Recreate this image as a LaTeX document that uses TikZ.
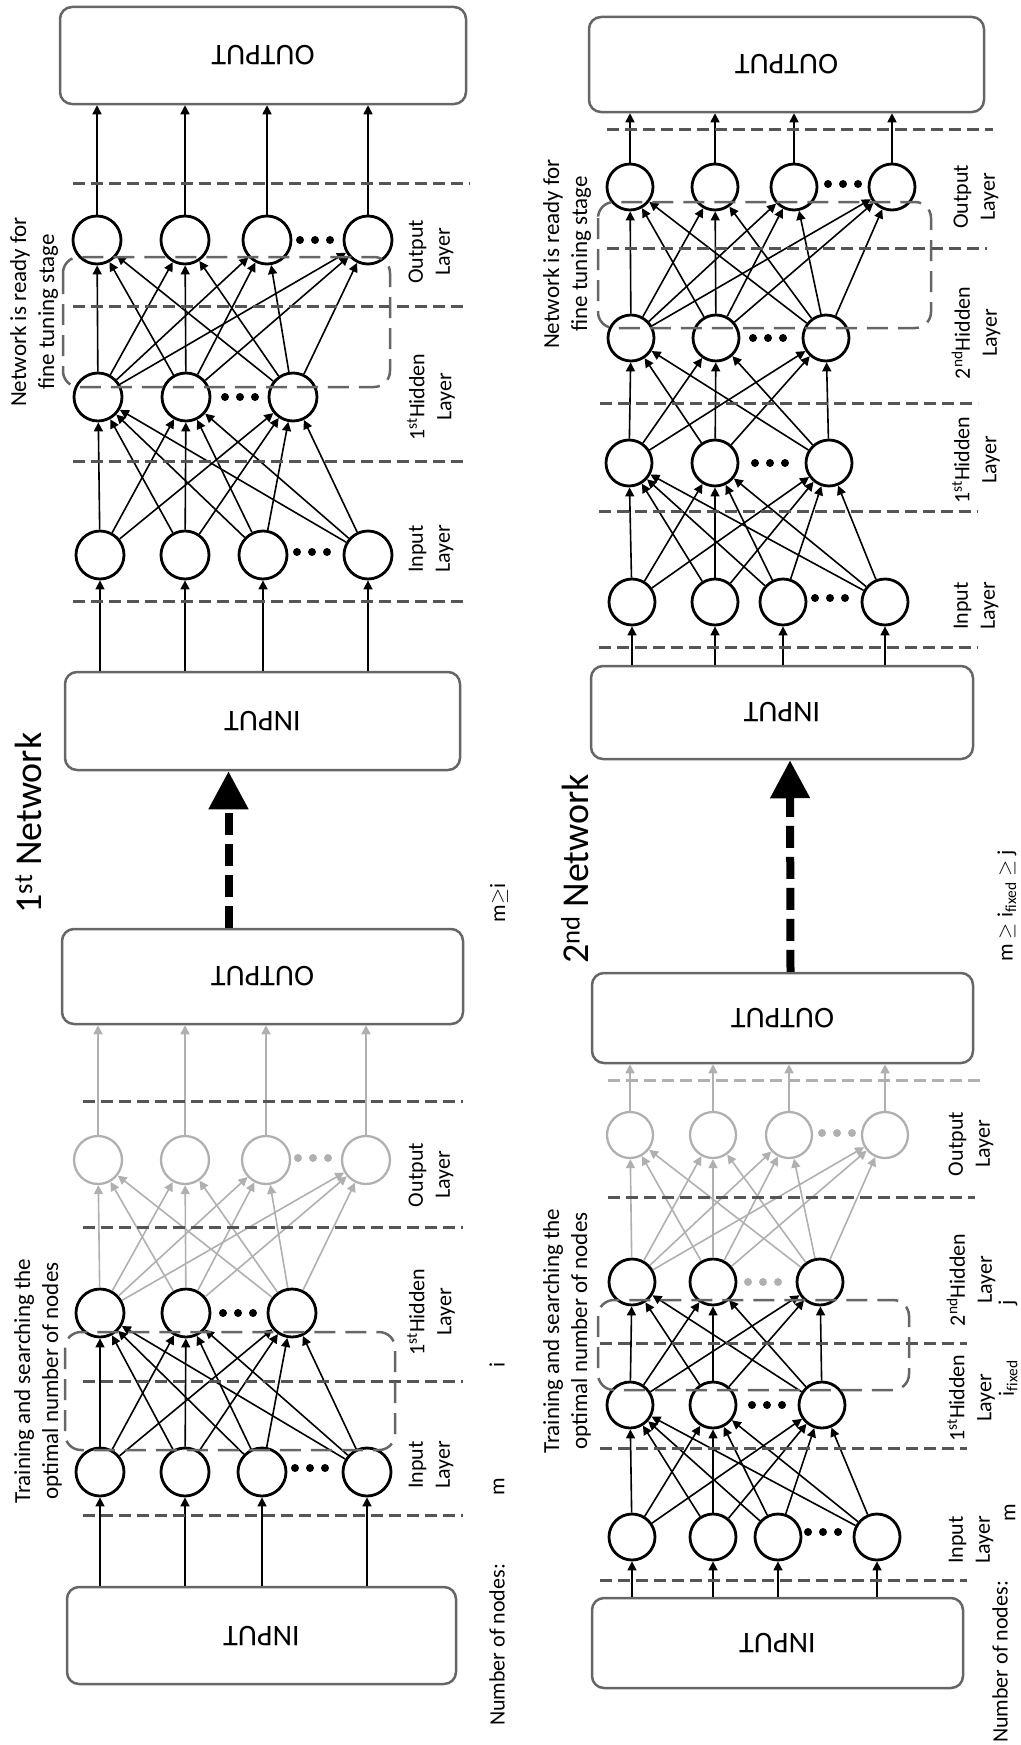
\documentclass[tikz,border=0pt]{standalone}
\usepackage{fontspec}
\setmainfont{Carlito}
\usepackage{graphicx}
\usepackage{tikz}
\usetikzlibrary{arrows.meta, positioning, calc}
\definecolor{boxgray}{HTML}{666666}
\definecolor{linegray}{HTML}{555555}
\definecolor{offgray}{HTML}{B0B0B0}
\tikzset{
    neuron/.style={
        circle,
        line width=2.8pt,
        draw=black,
        minimum size=48pt,
        inner sep=0pt,
    },
    offneuron/.style={
        neuron,
        line width=2.3pt,
        draw=offgray,
    },
    iobox/.style={
        rectangle,
        rounded corners=12pt,
        line width=2.5pt,
        draw=boxgray,
        font=\fontsize{30}{36}\selectfont,
    },
    link/.style={->, line width=1.6pt},
    offlink/.style={->, line width=1.6pt, draw=offgray, fill=offgray},
    sep/.style={line width=3pt, draw=linegray, dash pattern=on 12pt off 6pt},
    group/.style={line width=2.5pt, draw=boxgray, dash pattern=on 21pt off 10pt, rounded corners=16pt},
    layer/.style={rotate=90, align=center, font=\fontsize{22}{27}\selectfont},
    note/.style={rotate=90, align=center, font=\fontsize{23}{28}\selectfont},
    title/.style={rotate=90, font=\fontsize{38}{44}\selectfont},
    bigarrow/.style={line width=8pt, dash pattern=on 22pt off 9pt, -{Triangle[width=38pt,length=38pt]}},
}
% three dots between the last two neurons of a layer
\newcommand{\nodedots}[3]{\foreach \dx in {-1,0,1} \fill[#3] (#1+15*\dx,#2) circle (4pt);}

\begin{document}
\begin{tikzpicture}[x=1pt, y=-1pt, >={Triangle[length=9pt,width=9pt]}]
\useasboundingbox (0,0) rectangle (1020,1745);

% ---------- 1st network, searching stage
\node [iobox, minimum width=389pt, minimum height=97pt] (s1-in) at (261.5,1635.5) {\rotatebox{180}{INPUT}};
\foreach \x [count=\k] in {100,185,262,367} \node [neuron] (s1-i\k) at (\x,1472) {};
\foreach \x [count=\k] in {100,186,292} \node [neuron] (s1-h\k) at (\x,1313) {};
\foreach \x [count=\k] in {98,185,266,366} \node [offneuron] (s1-o\k) at (\x,1160) {};
\node [iobox, minimum width=401pt, minimum height=95pt] (s1-out) at (262.5,976.5) {\rotatebox{180}{OUTPUT}};
\nodedots{310}{1468}{black}
\nodedots{238}{1313}{black}
\nodedots{313}{1158}{offgray}

\foreach \k in {1,...,4} \draw [link] (s1-in.north -| s1-i\k) -- (s1-i\k);
\foreach \a in {1,...,4} \foreach \b in {1,2,3} \draw [link] (s1-i\a) -- (s1-h\b);
\foreach \a in {1,2,3} \foreach \b in {1,...,4} \draw [offlink] (s1-h\a) -- (s1-o\b);
\foreach \k in {1,...,4} \draw [offlink] (s1-o\k) -- (s1-o\k |- s1-out.south);

\draw [sep] (83,1515) -- (463,1515);
\draw [sep] (83,1381) -- (463,1381);
\draw [sep] (83,1227) -- (463,1227);
\draw [sep] (83,1101) -- (463,1101);
\draw [group] (65,1332) rectangle (395,1450);

\node [layer] (s1-lin) at (431,1465) {Input\\Layer};
\node [layer] (s1-lhid) at (431,1312) {1\textsuperscript{st}Hidden\\Layer};
\node [layer] (s1-lout) at (431,1175) {Output\\Layer};
\node [note] (s1-note) at (38,1381) {Training and searching the\\optimal number of nodes};

% ---------- 1st network, ready
\node [iobox, minimum width=395pt, minimum height=98pt] (n1-in) at (262.5,721) {\rotatebox{180}{INPUT}};
\foreach \x [count=\k] in {100,185,263,368} \node [neuron] (n1-i\k) at (\x,555) {};
\foreach \x [count=\k] in {98,186,293} \node [neuron] (n1-h\k) at (\x,397) {};
\foreach \x [count=\k] in {97,185,267,368} \node [neuron] (n1-o\k) at (\x,240) {};
\node [iobox, minimum width=406pt, minimum height=97pt] (n1-out) at (263,55.5) {\rotatebox{180}{OUTPUT}};
\nodedots{312}{552}{black}
\nodedots{240}{397}{black}
\nodedots{315}{240}{black}

\foreach \k in {1,...,4} \draw [link] (n1-in.north -| n1-i\k) -- (n1-i\k);
\foreach \a in {1,...,4} \foreach \b in {1,2,3} \draw [link] (n1-i\a) -- (n1-h\b);
\foreach \a in {1,2,3} \foreach \b in {1,...,4} \draw [link] (n1-h\a) -- (n1-o\b);
\foreach \k in {1,...,4} \draw [link] (n1-o\k) -- (n1-o\k |- n1-out.south);

\draw [sep] (73,601) -- (463,601);
\draw [sep] (73,461) -- (463,461);
\draw [sep] (73,306) -- (465,306);
\draw [sep] (73,183) -- (470,183);
\draw [group] (63,257) rectangle (390,387);

\node [layer] (n1-lin) at (431,549) {Input\\Layer};
\node [layer] (n1-lhid) at (431,397) {1\textsuperscript{st}Hidden\\Layer};
\node [layer] (n1-lout) at (431,252) {Output\\Layer};
\node [note] (n1-note) at (34,312) {Network is ready for\\fine tuning stage};

\draw [bigarrow] ([xshift=-34pt]s1-out.north) -- ([xshift=-34pt]n1-in.south);
\node [title] (n1-title) at (28,823) {1\textsuperscript{st} Network};

\node [layer] (s1-count) at (497,1645) {Number of nodes:};
\node [layer] (s1-m) at (499,1487) {m};
\node [layer] (s1-i) at (497,1365) {i};
\node [layer] (s1-cond) at (499,903) {m$\geq$i};

% ---------- 2nd network, searching stage
\node [iobox, minimum width=371pt, minimum height=90pt] (s2-in) at (777.5,1643) {\rotatebox{180}{INPUT}};
\foreach \x [count=\k] in {632,713,778,877} \node [neuron, minimum size=46pt] (s2-i\k) at (\x,1537) {};
\foreach \x [count=\k] in {630,713,822} \node [neuron, minimum size=46pt] (s2-a\k) at (\x,1405) {};
\foreach \x [count=\k] in {632,713,820} \node [neuron, minimum size=46pt] (s2-b\k) at (\x,1282) {};
\foreach \x [count=\k] in {630,713,789,885} \node [offneuron, minimum size=46pt] (s2-o\k) at (\x,1135) {};
\node [iobox, minimum width=381pt, minimum height=90pt] (s2-out) at (782.5,1018) {\rotatebox{180}{OUTPUT}};
\nodedots{823}{1532}{black}
\nodedots{767}{1405}{black}
\nodedots{763}{1282}{offgray}
\nodedots{837}{1133}{offgray}

\foreach \k in {1,...,4} \draw [link] (s2-in.north -| s2-i\k) -- (s2-i\k);
\foreach \a in {1,...,4} \foreach \b in {1,2,3} \draw [link] (s2-i\a) -- (s2-a\b);
\foreach \a in {1,2,3} \foreach \b in {1,2,3} \draw [link] (s2-a\a) -- (s2-b\b);
\foreach \a in {1,2,3} \foreach \b in {1,...,4} \draw [offlink] (s2-b\a) -- (s2-o\b);
\foreach \k in {1,...,4} \draw [offlink] (s2-o\k) -- (s2-o\k |- s2-out.south);

\draw [sep] (600,1580) -- (967,1580);
\draw [sep] (600,1448) -- (967,1448);
\draw [sep] (600,1343) -- (967,1343);
\draw [sep] (608,1197) -- (975,1197);
\draw [sep, draw=offgray] (608,1080) -- (982,1080);
\draw [group] (598,1300) rectangle (909,1390);

\node [layer] (s2-lin) at (971,1540) {Input\\Layer};
\node [layer] (s2-la) at (971,1398) {1\textsuperscript{st}Hidden\\Layer};
\node [layer] (s2-lb) at (971,1280) {2\textsuperscript{nd}Hidden\\Layer};
\node [layer] (s2-lout) at (971,1144) {Output\\Layer};
\node [note] (s2-note) at (567,1331) {Training and searching the\\optimal number of nodes};

% ---------- 2nd network, ready
\node [iobox, minimum width=382pt, minimum height=93pt] (n2-in) at (782,712.5) {\rotatebox{180}{INPUT}};
\foreach \x [count=\k] in {632,715,783,885} \node [neuron, minimum size=46pt] (n2-i\k) at (\x,602) {};
\foreach \x [count=\k] in {629,715,829} \node [neuron, minimum size=46pt] (n2-a\k) at (\x,463) {};
\foreach \x [count=\k] in {631,716,826} \node [neuron, minimum size=46pt] (n2-b\k) at (\x,338) {};
\foreach \x [count=\k] in {630,715,794,892} \node [neuron, minimum size=46pt] (n2-o\k) at (\x,187) {};
\node [iobox, minimum width=395pt, minimum height=95pt] (n2-out) at (786.5,64.5) {\rotatebox{180}{OUTPUT}};
\nodedots{830}{598}{black}
\nodedots{770}{463}{black}
\nodedots{768}{338}{black}
\nodedots{843}{184}{black}

\foreach \k in {1,...,4} \draw [link] (n2-in.north -| n2-i\k) -- (n2-i\k);
\foreach \a in {1,...,4} \foreach \b in {1,2,3} \draw [link] (n2-i\a) -- (n2-a\b);
\foreach \a in {1,2,3} \foreach \b in {1,2,3} \draw [link] (n2-a\a) -- (n2-b\b);
\foreach \a in {1,2,3} \foreach \b in {1,...,4} \draw [link] (n2-b\a) -- (n2-o\b);
\foreach \k in {1,...,4} \draw [link] (n2-o\k) -- (n2-o\k |- n2-out.south);

\draw [sep] (599,647) -- (978,647);
\draw [sep] (599,511) -- (978,511);
\draw [sep] (600,403) -- (978,403);
\draw [sep] (607,248) -- (987,248);
\draw [sep] (607,129) -- (993,129);
\draw [group] (598,202) rectangle (931,328);

\node [layer] (n2-lin) at (976,606) {Input\\Layer};
\node [layer] (n2-la) at (976,460) {1\textsuperscript{st}Hidden\\Layer};
\node [layer] (n2-lb) at (976,333) {2\textsuperscript{nd}Hidden\\Layer};
\node [layer] (n2-lout) at (976,197) {Output\\Layer};
\node [note] (n2-note) at (567,254) {Network is ready for\\fine tuning stage};

\draw [bigarrow] ([xshift=8pt]s2-out.north) -- ([xshift=8pt]n2-in.south);
\node [title] (n2-title) at (575,869) {2\textsuperscript{nd} Network};

\node [layer] (s2-count) at (1000,1662) {Number of nodes:};
\node [layer] (s2-m) at (1010,1513) {m};
\node [layer] (s2-i) at (1008,1378) {i$_{\mathrm{fixed}}$};
\node [layer] (s2-j) at (1008,1303) {j};
\node [layer] (s2-cond) at (1007,906) {m $\geq$ i$_{\mathrm{fixed}}$ $\geq$ j};
\end{tikzpicture}
\end{document}
